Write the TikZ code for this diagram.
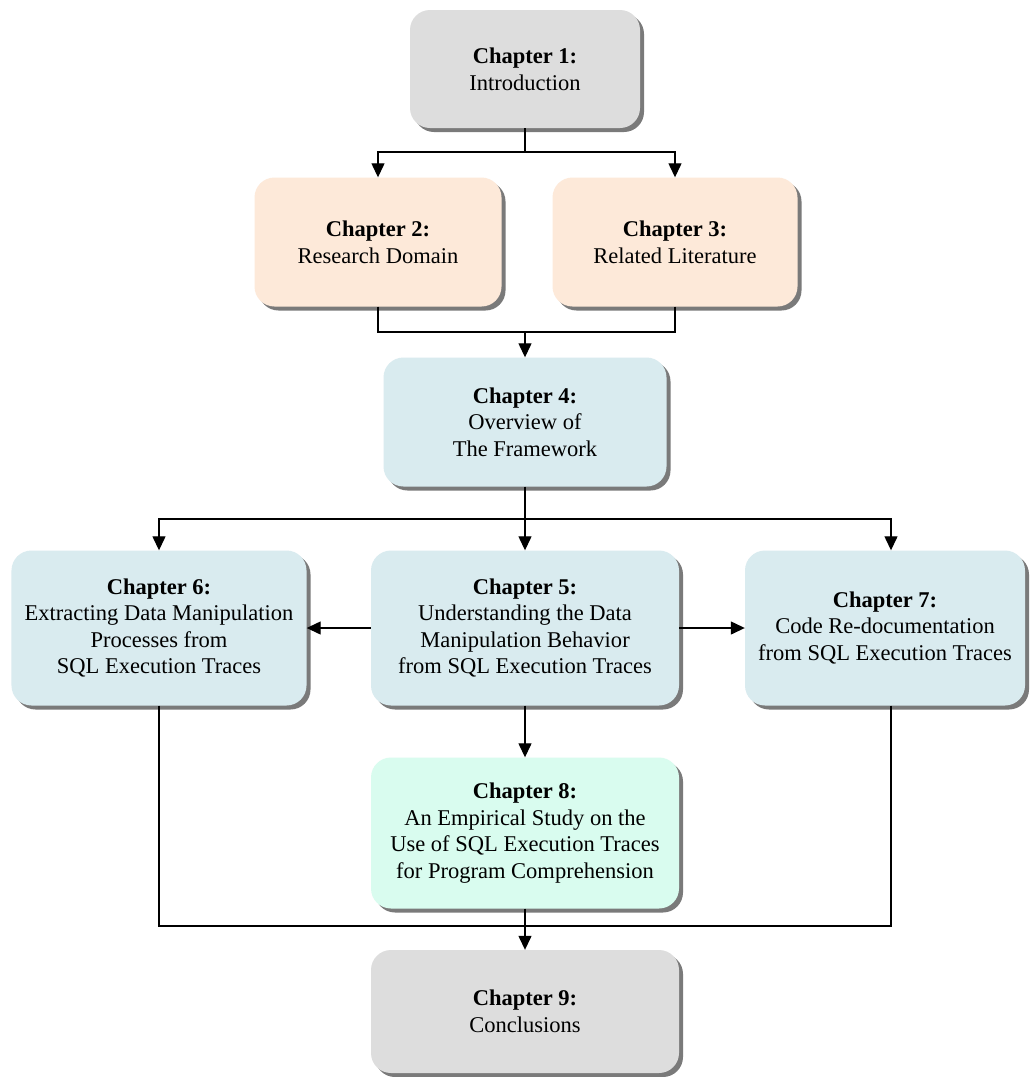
\documentclass[tikz,border=0pt]{standalone}
\usepackage{fontspec}
\setmainfont{Liberation Serif}
\usetikzlibrary{arrows.meta,shadows}

\definecolor{boxgrey}{HTML}{DDDDDD}
\definecolor{boxpeach}{HTML}{FDE9D9}
\definecolor{boxblue}{HTML}{D9EBEF}
\definecolor{boxmint}{HTML}{D9FCEF}
\definecolor{shadowgrey}{HTML}{7A7A7A}

\tikzset{
  chapbox/.style={
    rectangle, rounded corners=20bp, inner sep=0pt, align=center,
    font=\fontsize{22.6}{26.7}\selectfont,
    drop shadow={shadow xshift=4bp, shadow yshift=-4bp, fill=shadowgrey, opacity=1},
  },
  link/.style={line width=1.3bp, draw=black},
  arr/.style={link, -{Triangle[width=13bp,length=14bp]}},
}

\begin{document}
\begin{tikzpicture}[x=1bp, y=-1bp]
  \clip (0,0) rectangle (1030,1077);
  \fill[white] (0,0) rectangle (1030,1077);

  % chapter boxes
  \node[chapbox, fill=boxgrey, minimum width=230bp, minimum height=118bp]
    (c1) at (525,69) {\textbf{Chapter 1:}\\Introduction};
  \node[chapbox, fill=boxpeach, minimum width=247bp, minimum height=129bp]
    (c2) at (378,242) {\textbf{Chapter 2:}\\Research Domain};
  \node[chapbox, fill=boxpeach, minimum width=245bp, minimum height=129bp]
    (c3) at (675,242) {\textbf{Chapter 3:}\\Related Literature};
  \node[chapbox, fill=boxblue, minimum width=283bp, minimum height=129bp]
    (c4) at (525,422) {\textbf{Chapter 4:}\\Overview of\\The Framework};
  \node[chapbox, fill=boxblue, minimum width=295bp, minimum height=155bp]
    (c6) at (159,628) {\textbf{Chapter 6:}\\Extracting Data Manipulation\\Processes from\\SQL Execution Traces};
  \node[chapbox, fill=boxblue, minimum width=308bp, minimum height=155bp]
    (c5) at (525,628) {\textbf{Chapter 5:}\\Understanding the Data\\Manipulation Behavior\\from SQL Execution Traces};
  \node[chapbox, fill=boxblue, minimum width=280bp, minimum height=155bp]
    (c7) at (885,628) {\textbf{Chapter 7:}\\Code Re-documentation\\from SQL Execution Traces};
  \node[chapbox, fill=boxmint, minimum width=308bp, minimum height=151bp]
    (c8) at (525,833) {\textbf{Chapter 8:}\\An Empirical Study on the\\Use of SQL Execution Traces\\for Program Comprehension};
  \node[chapbox, fill=boxgrey, minimum width=308bp, minimum height=123bp]
    (c9) at (525,1011.5) {\textbf{Chapter 9:}\\Conclusions};

  % junction points
  \coordinate (j1) at (525,152);
  \coordinate (j2) at (525,332);
  \coordinate (j3) at (525,519);
  \coordinate (j4) at (525,926);

  % Chapter 1 to Chapters 2 and 3
  \draw[link] (c1.south) -- (j1);
  \draw[arr] (j1) -| (c2.north);
  \draw[arr] (j1) -| (c3.north);

  % Chapters 2 and 3 into Chapter 4
  \draw[link] (c2.south) |- (j2);
  \draw[link] (c3.south) |- (j2);
  \draw[arr] (j2) -- (c4.north);

  % Chapter 4 to Chapters 5, 6 and 7
  \draw[link] (c4.south) -- (j3);
  \draw[arr] (j3) -| (c6.north);
  \draw[arr] (j3) -- (c5.north);
  \draw[arr] (j3) -| ([xshift=6bp]c7.north);

  % Chapter 5 to its neighbours
  \draw[arr] (c5.west) -- (c6.east);
  \draw[arr] (c5.east) -- (c7.west);
  \draw[arr] (c5.south) -- (c8.north);

  % everything into Chapter 9
  \draw[link] (c6.south) |- (j4);
  \draw[link] ([xshift=6bp]c7.south) |- (j4);
  \draw[arr] (c8.south) -- (c9.north);
\end{tikzpicture}
\end{document}
